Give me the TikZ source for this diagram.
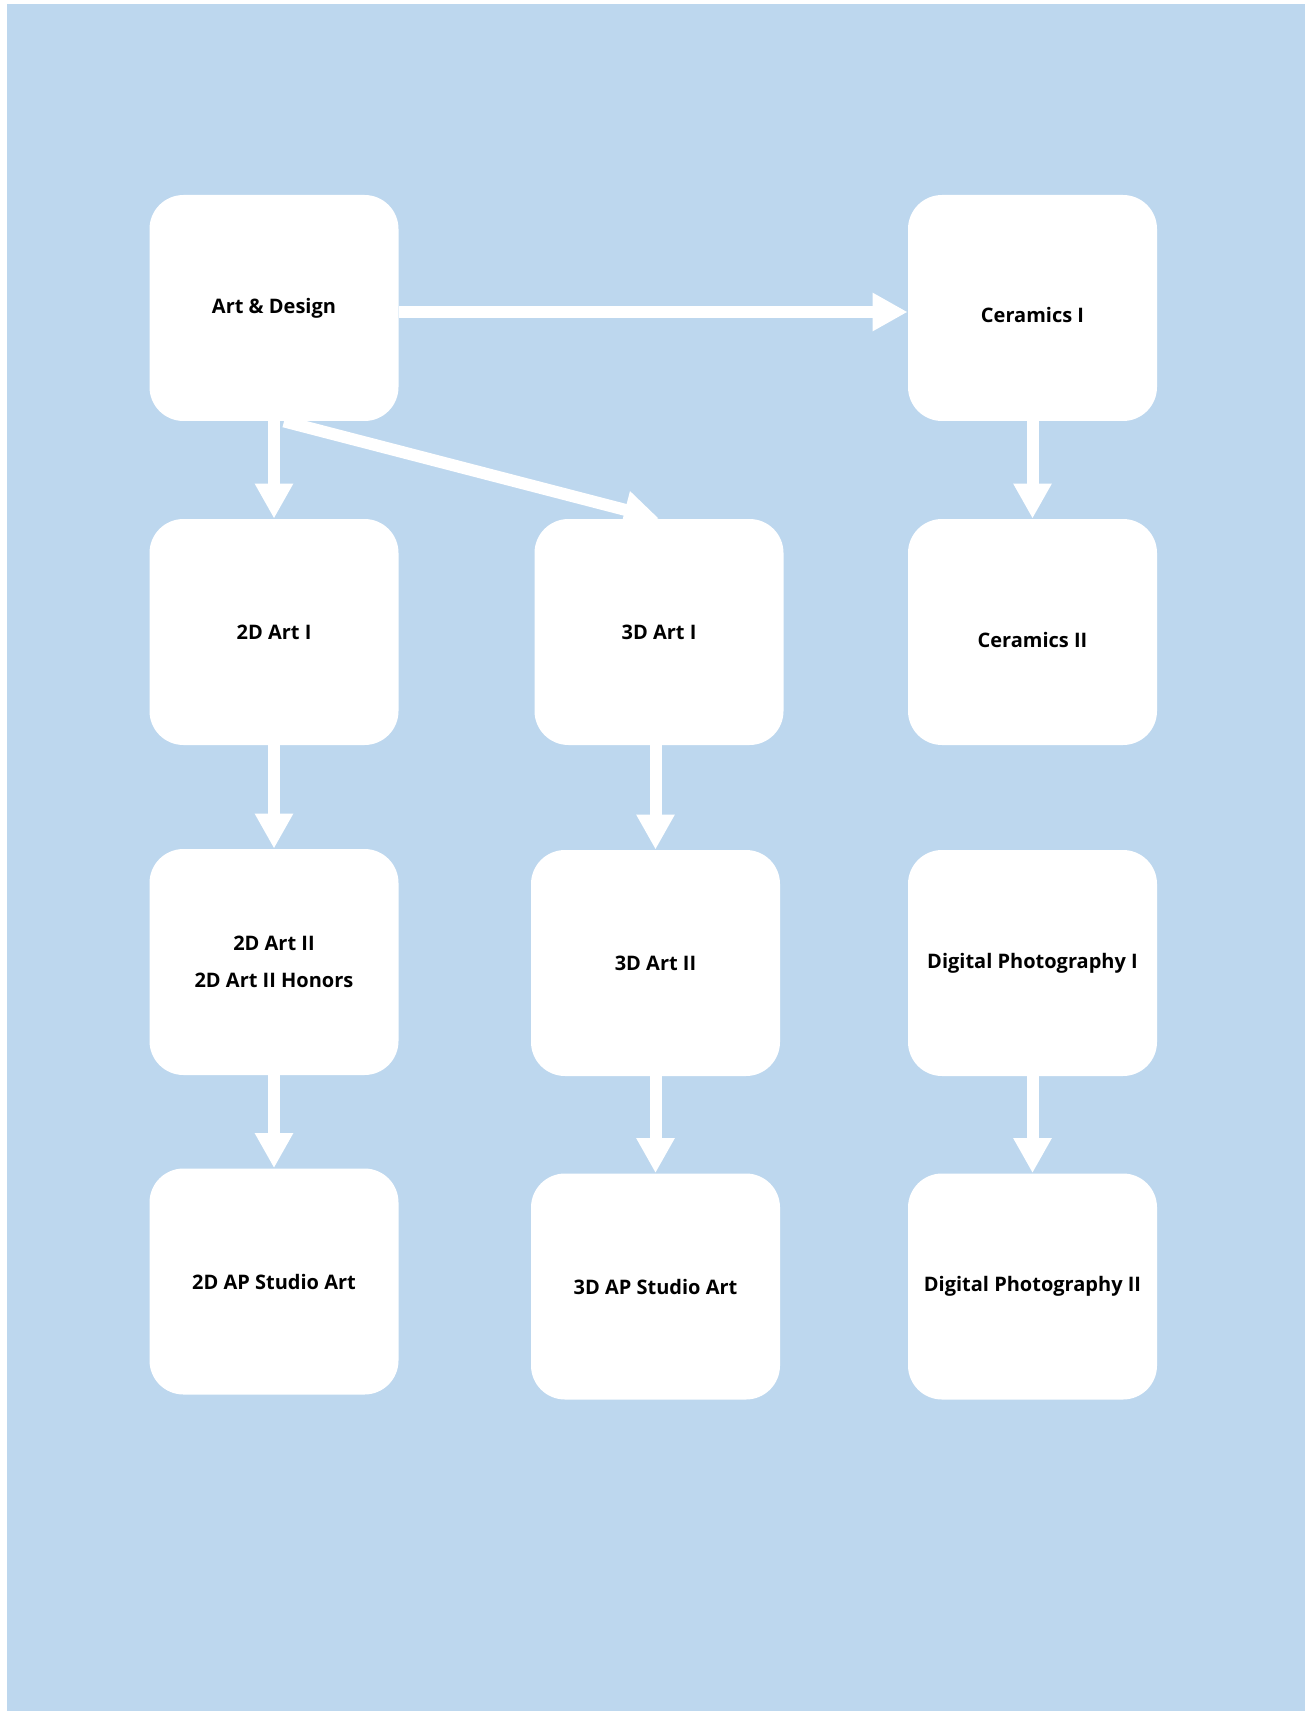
\documentclass[tikz,border=0pt]{standalone}
\usepackage{fontspec}
\setmainfont{Open Sans}
\usetikzlibrary{arrows.meta}
\definecolor{paneblue}{HTML}{BDD7EE}
\begin{document}
\begin{tikzpicture}[x=0.5pt,y=-0.5pt,
  course/.style={fill=white,rounded corners=17pt,minimum width=124.5pt,minimum height=113pt,
    inner sep=0pt,align=center,font=\fontsize{10}{18.5}\selectfont\bfseries},
  flow/.style={draw=white,line width=6pt,-{Triangle[width=18pt,length=17.5pt]}}]
\useasboundingbox (0,0) rectangle (1305,1711);
\fill[paneblue] (7,4) rectangle (1305,1711);
% course boxes
\node[course] (artdesign) at (274,308) {Art \& Design};
\node[course,text height=15pt,text depth=0pt] (ceramics1) at (1032.5,308) {Ceramics I};
\node[course] (art2d1) at (274,632) {2D Art I};
\node[course] (art3d1) at (659,632) {3D Art I};
\node[course,text height=15pt,text depth=0pt] (ceramics2) at (1032.5,632) {Ceramics II};
\node[course] (art2d2) at (274,962) {2D Art II\\2D Art II Honors};
\node[course] (art3d2) at (655.5,963) {3D Art II};
\node[course] (photo1) at (1032.5,963) {Digital Photography I};
\node[course] (art2dap) at (274,1281.5) {2D AP Studio Art};
\node[course] (art3dap) at (655.5,1286.5) {3D AP Studio Art};
\node[course] (photo2) at (1032.5,1286.5) {Digital Photography II};
% arrows
\draw[flow] ([yshift=-2pt]artdesign.east) -- ([yshift=-2pt]ceramics1.west);
\draw[flow] (artdesign.south) -- (art2d1.north);
\draw[flow] ([xshift=5pt]artdesign.south) -- (art3d1.north);
\draw[flow] (ceramics1.south) -- (ceramics2.north);
\draw[flow] (art2d1.south) -- (art2d2.north);
\draw[flow] (art3d1.south -| art3d2.north) -- (art3d2.north);
\draw[flow] (art2d2.south) -- (art2dap.north);
\draw[flow] (art3d2.south) -- (art3dap.north);
\draw[flow] (photo1.south) -- (photo2.north);
\end{tikzpicture}
\end{document}
